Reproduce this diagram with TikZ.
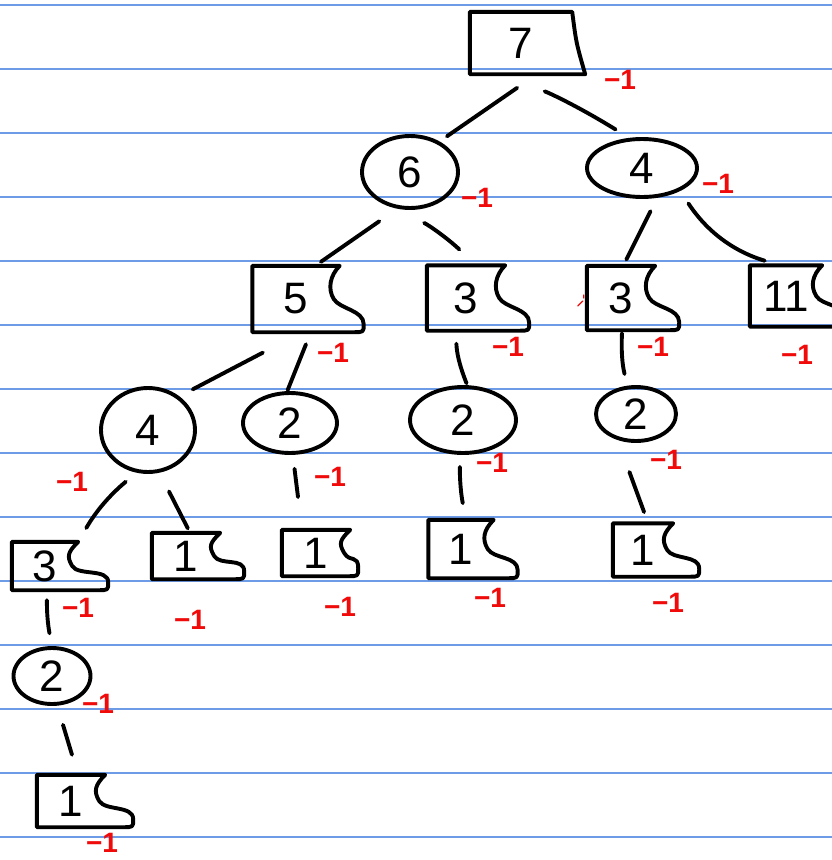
\documentclass[tikz,border=0pt]{standalone}
\usepackage{fontspec}
\setmainfont{Liberation Sans}
\usetikzlibrary{calc,shapes.geometric}
\definecolor{ruled}{RGB}{110,155,230}
\definecolor{markred}{RGB}{240,10,10}
\tikzset{
  ink/.style={line width=3.9pt, line cap=round, line join=round, draw=black},
  boxnode/.style={rectangle, inner sep=0pt, font=\fontsize{44}{44}\selectfont},
  circnode/.style={ellipse, ink, inner sep=0pt, font=\fontsize{44}{44}\selectfont},
  minusone/.style={text=markred, inner sep=0pt, font=\bfseries\fontsize{28}{28}\selectfont},
  link/.style={ink},
  ruledline/.style={draw=ruled, line width=1.1pt}
}
% hand-drawn box: straight left, top and bottom, wavy right side
\newcommand\handbox[2][24]{\draw[ink] (#2.north west) -- (#2.north east)
  .. controls +(-10,10) and +(-6,-10) .. ($(#2.east)+(-6,0)$)
  .. controls +(6,10) and +(0,-14) .. ($(#2.south east)+(#1,-8)$)
  .. controls +(0,8) and +(10,0) .. ($(#2.south east)+(#1-10,0)$)
  -- (#2.south west) -- cycle;}
\begin{document}
\begin{tikzpicture}[x=1pt,y=-1pt]
\useasboundingbox[fill=white] (0,0) rectangle (832,860);
\foreach \yy in {5,69,...,837} \draw[ruledline] (0,\yy) -- (832,\yy);

% nodes
\node[boxnode, minimum width=102, minimum height=62] (n7) at (521,43) {7};
\node[circnode, minimum width=96, minimum height=72] (n6) at (410,172) {6};
\node[circnode, minimum width=110, minimum height=58] (n4a) at (642,168) {4};
\node[boxnode, minimum width=87, minimum height=66] (n5) at (296,299) {5};
\node[boxnode, minimum width=78, minimum height=65] (n3a) at (466,298) {3};
\node[boxnode, minimum width=68, minimum height=64] (n3b) at (621,298) {3};
\node[boxnode, minimum width=72, minimum height=61] (n11) at (786,296) {11};
\node[circnode, minimum width=94, minimum height=84] (n4b) at (148,430) {4};
\node[circnode, minimum width=94, minimum height=60] (n2a) at (290,423) {2};
\node[circnode, minimum width=106, minimum height=66] (n2b) at (463,420) {2};
\node[circnode, minimum width=80, minimum height=54] (n2c) at (636,414) {2};
\node[boxnode, minimum width=66, minimum height=48] (n3c) at (45,566) {3};
\node[boxnode, minimum width=68, minimum height=46] (n1a) at (186,556) {1};
\node[boxnode, minimum width=68, minimum height=46] (n1b) at (316,553) {1};
\node[boxnode, minimum width=65, minimum height=58] (n1c) at (461,549) {1};
\node[boxnode, minimum width=60, minimum height=53] (n1d) at (643,550) {1};
\node[circnode, minimum width=77, minimum height=56] (n2d) at (52,676) {2};
\node[boxnode, minimum width=68, minimum height=52] (n1e) at (71,801) {1};

\draw[ink] (n7.north west) -- (n7.north east) .. controls ($(n7.east)+(4,0)$) .. ($(n7.south east)+(13,0)$) -- (n7.south west) -- cycle;
\handbox{n5}
\handbox{n3a}
\handbox{n3b}
\handbox{n11}
\handbox[30]{n3c}
\handbox{n1a}
\handbox[8]{n1b}
\handbox{n1c}
\handbox[26]{n1d}
\handbox[28]{n1e}

% connectors
\draw[link, shorten <=24pt, shorten >=9pt] (n7.-63) -- (n6.46);
\draw[link, shorten <=51pt, shorten >=16pt] (n7.-128) to[bend left=6] (n4a.113);
\draw[link, shorten <=22pt, shorten >=7pt] (n6.-109) -- (n5.60);
\draw[link, shorten <=31pt, shorten >=23pt] (n6.-110) to[bend left=8] (n3a.73);
\draw[link, shorten <=15pt, shorten >=7pt] (n4a.-63) -- (n3b.86);
\draw[link, shorten <=15pt, shorten >=16pt] (n4a.-31) to[bend right=20] (n11.101);
\draw[link, shorten <=44pt, shorten >=15pt] (n5.-80) -- (n4b.47);
\draw[link, shorten <=13pt, shorten >=1pt] (n5.-66) -- (n2a.95);
\draw[link, shorten <=13pt, shorten >=2pt] (n3a.-107) to[bend right=10] (n2b.83);
\draw[link, shorten <=3pt, shorten >=12pt] (n3b.-88) to[bend right=8] (n2c.107);
\draw[link, shorten <=14pt, shorten >=16pt] (n4b.-105) to[bend right=10] (n3c.north east);
\draw[link, shorten <=21pt, shorten >=5pt] (n4b.-75) -- (n1a.80);
\draw[link, shorten <=14pt, shorten >=33pt] (n2a.-85) -- (n1b.121);
\draw[link, shorten <=12pt, shorten >=17pt] (n2b.-95) to[bend right=6] (n1c.80);
\draw[link, shorten <=34pt, shorten >=12pt] (n2c.-125) -- (n1d.79);
\draw[link, shorten <=10pt, shorten >=13pt] (n3c.-85) to[bend right=6] (n2d.90);
\draw[link, shorten <=20pt, shorten >=21pt] (n2d.-80) -- (n1e.75);

% red marks
\node[minusone] (r7) at (620,80) {−1};
\node[minusone] (r6) at (477,198) {−1};
\node[minusone] (r4a) at (718,184) {−1};
\node[minusone] (r5) at (333,353) {−1};
\node[minusone] (r3a) at (508,347) {−1};
\node[minusone] (r3b) at (653,347) {−1};
\node[minusone] (r11) at (797,355) {−1};
\node[minusone] (r4b) at (72,482) {−1};
\node[minusone] (r2a) at (330,477) {−1};
\node[minusone] (r2b) at (492,463) {−1};
\node[minusone] (r2c) at (666,460) {−1};
\node[minusone] (r3c) at (78,608) {−1};
\node[minusone] (r1a) at (190,620) {−1};
\node[minusone] (r1b) at (340,607) {−1};
\node[minusone] (r1c) at (490,598) {−1};
\node[minusone] (r1d) at (668,603) {−1};
\node[minusone] (r2d) at (98,704) {−1};
\node[minusone] (r1e) at (102,843) {−1};
\draw[draw=markred, line width=1.3pt, line cap=round] ($(n3b.west)+(-9,8)$) -- ++(5,-5) ++(1,-6) -- ++(0,3);
\end{tikzpicture}
\end{document}
